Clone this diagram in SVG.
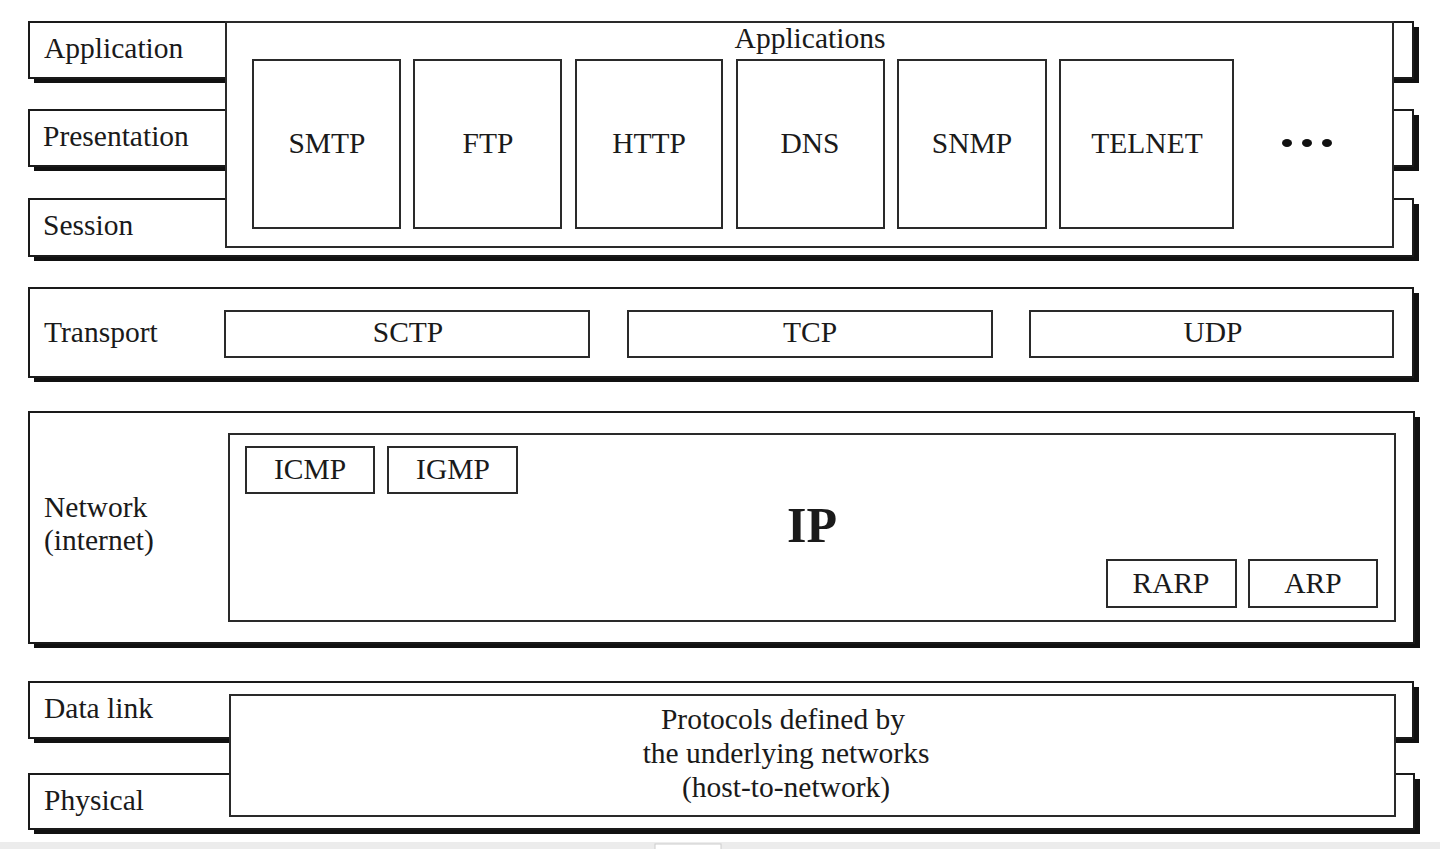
<svg xmlns="http://www.w3.org/2000/svg" width="1440" height="849" viewBox="0 0 1440 849">
<style>
  text { font-family: "Liberation Serif", "Times New Roman", serif; fill: #1a1a1a; }
  .lbl { font-size: 29.5px; }
  .mid { font-size: 29.5px; text-anchor: middle; }
  .bar { fill: #fff; stroke: #1a1a1a; stroke-width: 2; }
  .shadow { fill: #111; }
  .box { fill: #fff; stroke: #2a2a2a; stroke-width: 2; }
</style>
<rect x="0" y="0" width="1440" height="849" fill="#fff"/>
<rect x="0" y="842" width="1440" height="7" fill="#ececec"/>
<rect x="655" y="844" width="66" height="6" fill="#fff" stroke="#ccc" stroke-width="1"/>

<!-- Upper layers -->
<g id="layer-application">
  <rect class="shadow" x="34" y="27" width="1385" height="56"/>
  <rect class="bar" x="29" y="22" width="1384" height="56"/>
  <text class="lbl" x="44" y="58">Application</text>
</g>
<g id="layer-presentation">
  <rect class="shadow" x="34" y="115" width="1385" height="56"/>
  <rect class="bar" x="29" y="110" width="1384" height="56"/>
  <text class="lbl" x="43" y="146">Presentation</text>
</g>
<g id="layer-session">
  <rect class="shadow" x="34" y="204" width="1385" height="57"/>
  <rect class="bar" x="29" y="199" width="1384" height="57"/>
  <text class="lbl" x="43" y="235">Session</text>
</g>
<g id="applications">
  <rect class="box" x="226" y="22" width="1167" height="225"/>
  <text class="mid" x="810" y="48">Applications</text>
</g>
<g id="smtp"><rect class="box" x="253" y="60" width="147" height="168"/><text class="mid" x="327" y="153">SMTP</text></g>
<g id="ftp"><rect class="box" x="414" y="60" width="147" height="168"/><text class="mid" x="488" y="153">FTP</text></g>
<g id="http"><rect class="box" x="576" y="60" width="146" height="168"/><text class="mid" x="649" y="153">HTTP</text></g>
<g id="dns"><rect class="box" x="737" y="60" width="147" height="168"/><text class="mid" x="810" y="153">DNS</text></g>
<g id="snmp"><rect class="box" x="898" y="60" width="148" height="168"/><text class="mid" x="972" y="153">SNMP</text></g>
<g id="telnet"><rect class="box" x="1060" y="60" width="173" height="168"/><text class="mid" x="1147" y="153">TELNET</text></g>
<g id="ellipsis" fill="#111">
  <ellipse cx="1287" cy="143" rx="5" ry="4"/>
  <ellipse cx="1307" cy="143" rx="5" ry="4"/>
  <ellipse cx="1327" cy="143" rx="5" ry="4"/>
</g>

<!-- Transport -->
<g id="layer-transport">
  <rect class="shadow" x="34" y="293" width="1385" height="89"/>
  <rect class="bar" x="29" y="288" width="1384" height="89"/>
  <text class="lbl" x="44" y="342">Transport</text>
</g>
<g id="sctp"><rect class="box" x="225" y="311" width="364" height="46"/><text class="mid" x="408" y="342">SCTP</text></g>
<g id="tcp"><rect class="box" x="628" y="311" width="364" height="46"/><text class="mid" x="810" y="342">TCP</text></g>
<g id="udp"><rect class="box" x="1030" y="311" width="363" height="46"/><text class="mid" x="1213" y="342">UDP</text></g>

<!-- Network -->
<g id="layer-network">
  <rect class="shadow" x="34" y="417" width="1386" height="231"/>
  <rect class="bar" x="29" y="412" width="1385" height="231"/>
  <text class="lbl" x="44" y="517">Network</text>
  <text class="lbl" x="44" y="550">(internet)</text>
</g>
<g id="ip">
  <rect class="box" x="229" y="434" width="1166" height="187"/>
  <text x="812" y="542" style="font-size:50px;font-weight:bold;text-anchor:middle">IP</text>
</g>
<g id="icmp"><rect class="box" x="246" y="447" width="128" height="46"/><text class="mid" x="310" y="479">ICMP</text></g>
<g id="igmp"><rect class="box" x="388" y="447" width="129" height="46"/><text class="mid" x="453" y="479">IGMP</text></g>
<g id="rarp"><rect class="box" x="1107" y="560" width="129" height="47"/><text class="mid" x="1171" y="593">RARP</text></g>
<g id="arp"><rect class="box" x="1249" y="560" width="128" height="47"/><text class="mid" x="1313" y="593">ARP</text></g>

<!-- Data link / Physical -->
<g id="layer-datalink">
  <rect class="shadow" x="34" y="687" width="1385" height="56"/>
  <rect class="bar" x="29" y="682" width="1384" height="56"/>
  <text class="lbl" x="44" y="718">Data link</text>
</g>
<g id="layer-physical">
  <rect class="shadow" x="34" y="779" width="1386" height="55"/>
  <rect class="bar" x="29" y="774" width="1385" height="55"/>
  <text class="lbl" x="44" y="810">Physical</text>
</g>
<g id="host-to-network">
  <rect class="box" x="230" y="695" width="1165" height="121"/>
  <text class="mid" x="783" y="729">Protocols defined by</text>
  <text class="mid" x="786" y="763">the underlying networks</text>
  <text class="mid" x="786" y="797">(host-to-network)</text>
</g>
<g id="connectors"></g>
</svg>
